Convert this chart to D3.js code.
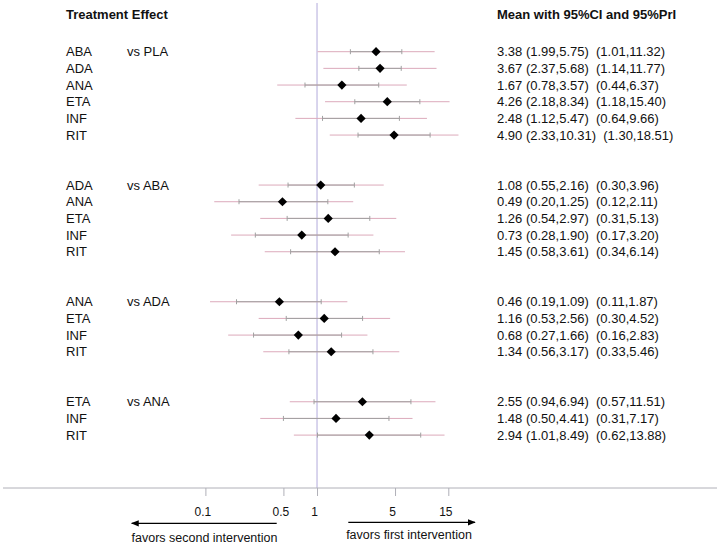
<!DOCTYPE html>
<html>
<head>
<meta charset="utf-8">
<script src="https://cdn.jsdelivr.net/npm/d3@7"></script>
<style>
  html, body { margin: 0; padding: 0; background: #fff; }
  svg { display: block; font-family: "Liberation Sans", Arial, sans-serif; }
  text { white-space: pre; }
</style>
</head>
<body>
<svg id="chart" width="722" height="546"></svg>
<script>
// ---- data ----
const treatments  = ["ABA","ADA","ANA","ETA","INF","RIT",  "ADA","ANA","ETA","INF","RIT",  "ANA","ETA","INF","RIT",  "ETA","INF","RIT"];
const comparators = ["vs PLA","","","","","",  "vs ABA","","","","",  "vs ADA","","","",  "vs ANA","",""];
const rowIndex    = [0,1,2,3,4,5,  8,9,10,11,12,  15,16,17,18,  21,22,23];
const means  = [3.38,3.67,1.67,4.26,2.48,4.90,  1.08,0.49,1.26,0.73,1.45,  0.46,1.16,0.68,1.34,  2.55,1.48,2.94];
const ciLow  = [1.99,2.37,0.78,2.18,1.12,2.33,  0.55,0.20,0.54,0.28,0.58,  0.19,0.53,0.27,0.56,  0.94,0.50,1.01];
const ciHigh = [5.75,5.68,3.57,8.34,5.47,10.31, 2.16,1.25,2.97,1.90,3.61,  1.09,2.56,1.66,3.17,  6.94,4.41,8.49];
const priLow = [1.01,1.14,0.44,1.18,0.64,1.30,  0.30,0.12,0.31,0.17,0.34,  0.11,0.30,0.16,0.33,  0.57,0.31,0.62];
const priHigh= [11.32,11.77,6.37,15.40,9.66,18.51, 3.96,2.11,5.13,3.20,6.14, 1.87,4.52,2.83,5.46, 11.51,7.17,13.88];
const tickValues = [0.1, 0.5, 1, 5, 15];
const tickLabels = ["0.1","0.5","1","5","15"];
const headerLeft = "Treatment Effect";
const headerRight = "Mean with 95%CI and 95%PrI";
const leftArrowText = "favors second intervention";
const rightArrowText = "favors first intervention";

// ---- layout ----
const svg = d3.select("#chart");
const x = d3.scaleLog().domain([0.1, 15]).range([205.4, 448.3]);
const y = d3.scaleLinear().domain([0, 23]).range([51.7, 435.1]);
const axisY = 488;
const fmt = d3.format(".2f");

// header
svg.append("text").attr("x", 66).attr("y", 18.5).attr("font-size", 13).attr("font-weight", "bold")
  .attr("fill", "#111").text(headerLeft);
svg.append("text").attr("x", 497).attr("y", 18.5).attr("font-size", 13).attr("font-weight", "bold")
  .attr("fill", "#111").text(headerRight);

// reference line at 1
svg.append("line").attr("x1", x(1)).attr("x2", x(1)).attr("y1", 3).attr("y2", axisY)
  .attr("stroke", "#b3aadb").attr("stroke-width", 1);

// axis line
svg.append("line").attr("x1", 3).attr("x2", 717).attr("y1", axisY).attr("y2", axisY)
  .attr("stroke", "#b0b0b8").attr("stroke-width", 1);

// ticks
const axis = d3.axisBottom(x).tickValues(tickValues).tickFormat((d, i) => tickLabels[i])
  .tickSize(8).tickSizeOuter(0);
const gAxis = svg.append("g").attr("transform", `translate(0,${axisY})`).call(axis);
gAxis.select(".domain").remove();
gAxis.selectAll(".tick line").attr("stroke", "#b0b0b8");
gAxis.selectAll(".tick text").attr("font-size", 12).attr("fill", "#111")
  .attr("font-family", "Liberation Sans, Arial, sans-serif").attr("dy", "1.45em").attr("dx", -3);

// rows
const rows = svg.append("g");
treatments.forEach((t, i) => {
  const yy = y(rowIndex[i]);
  // left labels
  rows.append("text").attr("x", 66).attr("y", yy + 4.6).attr("font-size", 13).attr("fill", "#111").text(t);
  if (comparators[i]) rows.append("text").attr("x", 127).attr("y", yy + 4.6).attr("font-size", 13).attr("fill", "#111").text(comparators[i]);
  // right text
  rows.append("text").attr("x", 497).attr("y", yy + 4.6).attr("font-size", 13).attr("fill", "#111")
    .text(`${fmt(means[i])} (${fmt(ciLow[i])},${fmt(ciHigh[i])})  (${fmt(priLow[i])},${fmt(priHigh[i])})`);
  // prediction interval
  rows.append("line").attr("x1", x(priLow[i])).attr("x2", x(priHigh[i])).attr("y1", yy).attr("y2", yy)
    .attr("stroke", "#dcaabb").attr("stroke-width", 1);
  // confidence interval
  rows.append("line").attr("x1", x(ciLow[i])).attr("x2", x(ciHigh[i])).attr("y1", yy).attr("y2", yy)
    .attr("stroke", "#a0a0a0").attr("stroke-width", 1);
  [ciLow[i], ciHigh[i]].forEach(v => {
    rows.append("line").attr("x1", x(v)).attr("x2", x(v)).attr("y1", yy - 2.5).attr("y2", yy + 2.5)
      .attr("stroke", "#a0a0a0").attr("stroke-width", 1);
  });
  // diamond
  const cx = x(means[i]), r = 4.6;
  rows.append("path").attr("d", `M${cx},${yy - r}L${cx + r},${yy}L${cx},${yy + r}L${cx - r},${yy}Z`)
    .attr("fill", "#000");
});

// arrows
const defs = svg.append("defs");
defs.append("marker").attr("id", "ah").attr("viewBox", "0 0 10 10").attr("refX", 9).attr("refY", 5)
  .attr("markerWidth", 6).attr("markerHeight", 6).attr("orient", "auto")
  .append("path").attr("d", "M0,1L10,5L0,9Z").attr("fill", "#000");
svg.append("line").attr("x1", 276.7).attr("x2", 131.7).attr("y1", 523.3).attr("y2", 523.3)
  .attr("stroke", "#000").attr("stroke-width", 1.3).attr("marker-end", "url(#ah)");
svg.append("line").attr("x1", 348.3).attr("x2", 475).attr("y1", 522.3).attr("y2", 522.3)
  .attr("stroke", "#000").attr("stroke-width", 1.3).attr("marker-end", "url(#ah)");
svg.append("text").attr("x", 204.5).attr("y", 541.5).attr("text-anchor", "middle").attr("font-size", 12.5)
  .attr("fill", "#111").text(leftArrowText);
svg.append("text").attr("x", 409).attr("y", 538.5).attr("text-anchor", "middle").attr("font-size", 12.5)
  .attr("fill", "#111").text(rightArrowText);
</script>
</body>
</html>
